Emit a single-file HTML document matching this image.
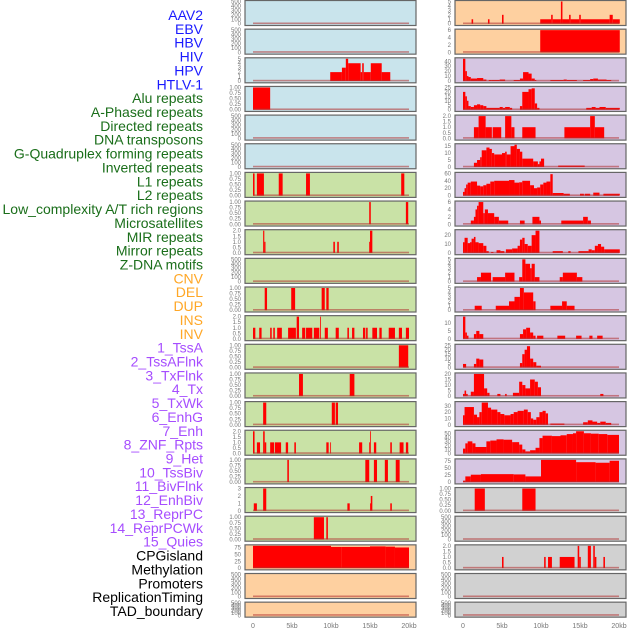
<!DOCTYPE html>
<html><head><meta charset="utf-8"><style>
html,body{margin:0;padding:0;background:#fff;}
svg{display:block;font-family:"Liberation Sans",sans-serif;}
</style></head><body>
<svg id="chart" width="630" height="630" viewBox="0 0 630 630" xmlns="http://www.w3.org/2000/svg"></svg>
<script>
// ---- data ----
const trackLabels = ["AAV2","EBV","HBV","HIV","HPV","HTLV-1","Alu repeats","A-Phased repeats","Directed repeats","DNA transposons","G-Quadruplex forming repeats","Inverted repeats","L1 repeats","L2 repeats","Low_complexity A/T rich regions","Microsatellites","MIR repeats","Mirror repeats","Z-DNA motifs","CNV","DEL","DUP","INS","INV","1_TssA","2_TssAFlnk","3_TxFlnk","4_Tx","5_TxWk","6_EnhG","7_Enh","8_ZNF_Rpts","9_Het","10_TssBiv","11_BivFlnk","12_EnhBiv","13_ReprPC","14_ReprPCWk","15_Quies","CPGisland","Methylation","Promoters","ReplicationTiming","TAD_boundary"];
const labelGroups = ["v","v","v","v","v","v","r","r","r","r","r","r","r","r","r","r","r","r","r","s","s","s","s","s","c","c","c","c","c","c","c","c","c","c","c","c","c","c","c","o","o","o","o","o"];
const xTickValues = [0,5,10,15,20];
const xTickLabels = ["0","5kb","10kb","15kb","20kb"];
// left column panels: [startKb, endKb, value]
const L0=[],L1=[],L4=[],L5=[],L9=[],L20=[],L21=[];
const L2=[[9.9,11.4,2],[11.4,11.9,3],[11.9,12.2,5],[12.2,13.8,4],[13.8,14.0,2],[14.0,14.2,4],[14.2,15.1,2],[15.1,16.5,4],[16.5,17.6,2]];
const L3=[[0,2.2,1]];
const L6=[[0,0.2,1],[0.5,1.4,1],[3.3,3.8,1],[6.8,7.3,1],[19.0,19.4,1]];
const L7=[[14.9,15.1,1],[19.6,19.9,1]];
const L8=[[1.3,1.45,2],[1.45,1.6,1],[10.3,10.5,1],[10.8,11.0,1],[14.9,15.0,1],[15.0,15.3,2]];
const L10=[[1.5,1.8,1],[4.9,5.4,1],[8.8,9.2,1],[9.4,9.7,1]];
const L11=[[0,0.3,1],[0.8,1.1,1],[2.2,2.4,1],[2.6,2.8,1],[3.1,3.7,1],[4.5,5.5,1],[5.6,5.9,2],[6.3,6.7,1],[6.8,7.6,1],[7.8,8.5,1],[8.6,8.7,2],[9.2,9.6,1],[10.6,11.0,1],[12.1,12.3,1],[12.7,13.0,1],[14.1,14.4,1],[14.5,14.7,1],[15.3,15.9,1],[16.2,16.5,1],[17.4,18.2,1],[18.7,19.1,1],[19.6,20.0,1]];
const L12=[[18.7,19.9,1]];
const L13=[[5.9,6.4,1],[12.4,13.0,1]];
const L14=[[1.3,1.7,1],[10.1,10.5,1],[10.6,10.9,1]];
const L15=[[0,0.2,2],[0.5,0.9,1],[1.3,1.5,2],[1.5,1.7,1],[2.2,2.7,1],[2.8,3.6,1],[4.2,4.5,1],[5.3,5.5,1],[9.4,9.7,1],[9.9,10.0,1],[13.6,14.0,1],[14.9,15.0,1],[15.0,15.1,2],[15.5,15.8,1],[17.6,17.8,1],[18.8,19.3,1],[19.6,19.9,1]];
const L16=[[4.4,4.6,1],[14.4,14.9,1],[15.5,15.9,1],[16.9,17.3,1],[18.3,18.8,1]];
const L17=[[0.1,0.5,1],[1.3,1.7,3],[12.1,12.4,1],[15.0,15.1,1],[15.1,15.3,2],[17.6,17.8,1]];
const L18=[[7.8,9.1,1],[9.4,9.6,1]];
const L19=[[0,10,82],[10,11.3,78],[11.3,15,78],[15,17,80],[17,18.2,79],[18.2,20,76]];
// right column panels
const R18=[],R20=[],R21=[];
const R0=[[1.1,1.3,1],[3.2,3.4,1],[5.0,5.2,2],[9.9,11.3,1],[11.3,11.5,2],[11.5,12.55,1],[12.55,12.75,5],[12.75,13.6,1],[13.6,13.8,2],[13.8,14.9,1],[14.9,15.1,2],[15.1,18.8,1],[18.8,19.2,2],[19.2,20.1,1]];
const R1=[[9.9,20.1,6]];
const R2=[[0,0.3,45],[0.3,0.5,20],[0.5,0.7,10],[0.7,1.0,8],[1.0,1.8,5],[1.8,2.6,6],[2.6,3.0,3],[3.3,3.7,2],[3.7,4.7,2],[4.7,5.4,3],[6.5,7.3,2],[7.3,7.7,5],[7.7,8.4,18],[8.4,8.8,15],[8.8,9.2,5],[9.2,9.4,2],[11.2,12.9,2],[12.9,13.3,3],[13.3,14.6,2],[15.4,16.3,2],[16.3,16.7,4],[16.7,17.3,5],[17.3,18.4,3],[18.4,19.0,2]];
const R3=[[0,0.3,20],[0.3,0.5,15],[0.5,0.7,10],[0.7,1.0,4],[1.0,1.4,3],[1.4,1.8,5],[1.8,2.2,6],[2.2,2.6,5],[2.6,3.0,4],[3.0,4.7,2],[4.7,5.1,3],[5.1,5.4,2],[5.4,6.0,3],[6.0,6.3,2],[7.3,7.6,4],[7.6,8.4,20],[8.4,8.8,23],[8.8,9.2,24],[9.2,9.5,7],[9.5,9.8,2],[15.8,16.5,2],[16.5,17.0,3],[17.0,17.5,2],[17.5,18.3,3],[18.3,20.1,2]];
const R4=[[1.4,2.0,1],[2.0,2.9,2],[2.9,3.7,1],[3.8,4.9,1],[5.4,6.2,2],[6.2,6.6,1],[7.6,9.3,1],[13.0,16.3,1],[16.3,16.9,2],[16.9,18.1,1]];
const R5=[[1.4,1.8,3],[1.8,2.2,5],[2.2,2.4,7],[2.4,3.0,12],[3.0,3.4,14],[3.4,3.7,13],[3.7,4.0,10],[4.0,5.0,9],[5.0,5.4,10],[5.4,5.6,11],[5.6,6.1,9],[6.1,6.6,15],[6.6,6.9,16],[6.9,7.3,13],[7.3,7.6,11],[7.6,9.0,6],[9.0,9.6,4],[9.6,9.8,2],[9.8,10.0,4],[10.0,10.4,6],[12.2,15.6,1]];
const R6=[[0,0.2,10],[0.2,0.4,20],[0.4,0.6,30],[0.6,1.0,35],[1.0,1.8,38],[1.8,2.2,27],[2.2,2.6,25],[2.6,3.0,28],[3.0,3.5,32],[3.5,4.0,38],[4.0,5.9,40],[5.9,6.6,42],[6.6,7.2,35],[7.2,7.6,36],[7.6,8.6,40],[8.6,9.1,28],[9.1,9.5,20],[9.5,9.9,22],[9.9,10.3,30],[10.3,10.7,35],[10.7,11.2,38],[11.2,11.5,58],[11.5,12.9,7],[12.9,13.7,5],[15.0,15.5,5],[15.6,16.3,5],[16.7,17.5,8],[18.0,20.1,5]];
const R7=[[1.0,1.4,1],[1.4,1.6,2],[1.6,1.8,4],[1.8,2.0,5],[2.0,2.6,6],[2.6,2.8,3],[2.8,3.2,4],[3.2,4.0,3],[4.0,4.6,2],[4.6,5.8,1],[7.3,7.9,1],[8.9,9.8,2],[9.8,10.0,1],[12.6,15.4,1],[15.4,16.0,2],[16.0,16.4,1]];
const R8=[[0,0.2,12],[0.2,0.6,17],[0.6,0.9,11],[0.9,1.1,12],[1.1,1.4,16],[1.4,1.6,18],[1.6,2.0,12],[2.0,2.6,11],[2.6,3.0,8],[3.0,3.3,2],[3.6,3.9,1],[4.3,4.8,3],[4.8,5.3,2],[5.5,6.3,4],[6.3,7.0,5],[7.0,7.3,8],[7.3,7.6,15],[7.6,7.9,17],[7.9,8.3,10],[8.3,8.8,8],[8.8,9.3,20],[9.3,9.8,25],[11.5,12.8,2],[13.5,13.8,2],[14.8,16.1,2],[16.1,16.5,4],[16.5,16.9,3],[16.9,17.3,8],[17.3,17.7,10],[17.7,18.1,7],[18.1,20.1,4]];
const R9=[[1.8,2.3,1],[2.3,3.6,2],[3.8,5.4,1],[5.4,6.6,2],[7.2,7.6,1],[7.6,8.0,5],[8.0,8.6,4],[8.6,8.8,3],[8.8,9.2,4],[9.2,9.8,1],[12.4,12.8,1],[12.8,14.6,2],[14.6,15.3,1]];
const R10=[[1.5,2.4,1],[4.2,5.9,1],[5.9,6.6,2],[6.6,7.3,3],[7.3,7.8,5],[7.8,9.0,4],[9.0,9.3,2],[11.2,12.7,1],[12.7,13.3,2],[13.3,14.3,1]];
const R11=[[0,0.3,14],[0.3,0.5,4],[0.5,0.7,2],[1.4,1.7,3],[1.7,2.1,5],[2.1,2.6,3],[7.3,7.7,3],[7.7,8.1,6],[8.1,8.6,7],[8.6,9.0,4],[9.0,9.3,2],[9.5,10.3,2],[12.1,13.1,2],[14.5,15.2,2],[16.2,16.6,2],[17.2,17.9,2]];
const R12=[[0,0.4,4],[1.4,1.7,4],[1.7,2.1,10],[2.1,2.6,9],[7.3,7.6,5],[7.6,7.9,15],[7.9,8.2,20],[8.2,8.6,24],[8.6,9.0,10],[9.0,9.4,6],[9.4,10.0,2]];
const R13=[[0,0.2,2],[0.2,0.4,5],[0.4,0.6,2],[1.0,1.4,4],[1.4,2.7,20],[2.7,3.1,7],[3.1,3.4,3],[4.4,4.8,2],[5.4,5.6,2],[6.4,7.2,3],[7.2,7.6,13],[7.6,8.0,10],[8.0,8.6,7],[8.6,9.2,15],[9.2,9.6,13],[9.6,10.0,8],[17.6,18.0,2]];
const R14=[[0,0.2,15],[0.2,1.4,28],[1.4,1.8,16],[1.8,2.1,12],[2.1,2.4,20],[2.4,3.2,35],[3.2,3.6,27],[3.6,4.4,24],[4.4,4.8,20],[4.8,5.3,17],[5.3,6.1,15],[6.1,6.5,17],[6.5,7.0,20],[7.0,7.8,22],[7.8,8.3,24],[8.3,8.7,20],[8.7,9.0,10],[9.0,9.4,8],[9.4,9.8,12],[9.8,10.2,20],[10.2,10.6,22],[10.6,10.9,18],[11.2,13.0,2],[15.4,16.0,4],[16.0,16.6,7],[16.6,17.2,5],[17.2,17.6,3],[17.6,18.3,5],[18.3,19.0,3]];
const R15=[[0,0.3,12],[0.3,0.6,25],[0.6,1.2,30],[1.2,1.6,25],[1.6,3.0,16],[3.0,3.5,30],[3.5,4.3,32],[4.3,5.2,35],[5.2,6.3,34],[6.3,7.2,28],[7.2,7.6,22],[7.6,8.0,10],[8.0,8.6,5],[8.6,9.3,8],[9.3,9.8,14],[9.8,10.2,38],[10.2,11.4,44],[11.4,12.5,43],[12.5,13.3,45],[13.3,14.1,48],[14.1,14.5,50],[14.5,15.5,55],[15.5,16.4,50],[16.4,17.4,49],[17.4,18.5,48],[18.5,20.0,46]];
const R16=[[0,0.3,5],[0.3,1.0,20],[1.0,2.3,26],[2.3,6.5,28],[6.5,8.0,27],[8.0,10.0,20],[10.0,14.5,78],[14.5,17.0,70],[17.0,18.8,68],[18.8,20.0,75]];
const R17=[[1.5,2.8,1],[7.6,9.3,1]];
const R19=[[5.0,5.2,1],[10.4,10.6,1],[10.9,11.4,1],[12.4,14.3,1],[14.7,14.9,2],[14.9,15.1,1],[16.0,16.4,2],[16.7,16.9,2],[16.9,17.1,1],[18.0,18.2,1]];
const leftPanels=[L0,L1,L2,L3,L4,L5,L6,L7,L8,L9,L10,L11,L12,L13,L14,L15,L16,L17,L18,L19,L20,L21];
const rightPanels=[R0,R1,R2,R3,R4,R5,R6,R7,R8,R9,R10,R11,R12,R13,R14,R15,R16,R17,R18,R19,R20,R21];
const leftYmax=[500,500,5,1,500,500,1,1,2,500,1,2,1,1,1,2,1,3,1,82,500,500];
const rightYmax=[5,6,45,25,2,16,60,6,25,5,5,14,25,20,35,55,78,1,500,2,500,500];
const leftTicks=[[0,100,200,300,400,500],[0,100,200,300,400,500],[0,1,2,3,4,5],[0,.25,.5,.75,1],[0,100,200,300,400,500],[0,100,200,300,400,500],[0,.25,.5,.75,1],[0,.25,.5,.75,1],[0,.5,1,1.5,2],[0,100,200,300,400,500],[0,.25,.5,.75,1],[0,.5,1,1.5,2],[0,.25,.5,.75,1],[0,.25,.5,.75,1],[0,.25,.5,.75,1],[0,.5,1,1.5,2],[0,.25,.5,.75,1],[0,1,2,3],[0,.25,.5,.75,1],[0,25,50,75],[0,100,200,300,400,500],[0,100,200,300,400,500]];
const rightTicks=[[0,1,2,3,4,5],[0,2,4,6],[0,10,20,30,40],[0,5,10,15,20,25],[0,.5,1,1.5,2],[0,5,10,15],[0,20,40,60],[0,2,4,6],[0,10,20],[0,1,2,3,4,5],[0,1,2,3,4,5],[0,5,10],[0,5,10,15,20,25],[0,5,10,15,20],[0,10,20,30],[0,10,20,30,40,50],[0,25,50,75],[0,.25,.5,.75,1],[0,100,200,300,400,500],[0,.5,1,1.5,2],[0,100,200,300,400,500],[0,100,200,300,400,500]];
const leftBg=["#c9e4ec","#c9e4ec","#c9e4ec","#c9e4ec","#c9e4ec","#c9e4ec","#c9e2a6","#c9e2a6","#c9e2a6","#c9e2a6","#c9e2a6","#c9e2a6","#c9e2a6","#c9e2a6","#c9e2a6","#c9e2a6","#c9e2a6","#c9e2a6","#c9e2a6","#fed0a0","#fed0a0","#fed0a0"];
const rightBg=["#fed0a0","#fed0a0","#d6c6e2","#d6c6e2","#d6c6e2","#d6c6e2","#d6c6e2","#d6c6e2","#d6c6e2","#d6c6e2","#d6c6e2","#d6c6e2","#d6c6e2","#d6c6e2","#d6c6e2","#d6c6e2","#d6c6e2","#d1d1d1","#d1d1d1","#d1d1d1","#d1d1d1","#d1d1d1"];
// ---- drawing ----
const NS="http://www.w3.org/2000/svg";
const svg=document.getElementById("chart");
const groupColor={v:"#1a1aff",r:"#1a6e1a",s:"#ffa726",c:"#a64dff",o:"#000000"};
function mk(tag,attrs,parent){const e=document.createElementNS(NS,tag);for(const k in attrs)e.setAttribute(k,attrs[k]);(parent||svg).appendChild(e);return e;}
function fmtTick(v,ticks){const dec=ticks.some(t=>t%1!==0);if(!dec)return String(v);const two=ticks.some(t=>Math.round(t*100)%50!==0);return two?v.toFixed(2):v.toFixed(1);}
// labels
trackLabels.forEach((lab,i)=>{
  const t=mk("text",{x:203,y:15+13.86*i+5,"text-anchor":"end","font-size":"14",fill:groupColor[labelGroups[i]]});
  
  
  t.textContent=lab;
});
function drawColumn(panels,ymaxes,ticks,bgs,px,side){
  const pw=171;
  const xs=kb=>px+8+kb*7.8;
  panels.forEach((segs,i)=>{
    const top=0.5+28.65*i;
    const h=(i===21)?15:25;
    const g=mk("g",{});
    
    
    const r=mk("rect",{x:px,y:top,width:pw,height:h,fill:bgs[i],stroke:"#666",
      "stroke-width":"1.2"},g);
    
    
    const y0=top+h-1.8, y1=top+1;
    const ys=v=>y0-(v/ymaxes[i])*(y0-y1);
    segs.forEach(s=>{
      const b=mk("rect",{x:xs(s[0]),y:ys(Math.min(s[2],ymaxes[i])),width:Math.max(0.8,xs(s[1])-xs(s[0])),height:y0-ys(Math.min(s[2],ymaxes[i])),fill:"#ff0000"},g);
      
      
    });
    const bl=mk("rect",{x:xs(0),y:y0-1.2,width:xs(20)-xs(0),height:1.6,fill:"#b03030","fill-opacity":"0.55"},g);
    
    
    ticks[i].forEach(tv=>{
      const t=mk("text",{x:px-4,y:ys(tv)+2,"text-anchor":"end","font-size":"6","fill":"#777"},g);
      
      
      t.textContent=fmtTick(tv,ticks[i]);
    });
  });
  xTickValues.forEach((v,k)=>{
    const t=mk("text",{x:xs(v),y:628,"text-anchor":"middle","font-size":"7",fill:"#777"});
    
    
    t.textContent=xTickLabels[k];
  });
}
drawColumn(leftPanels,leftYmax,leftTicks,leftBg,245,"left");
drawColumn(rightPanels,rightYmax,rightTicks,rightBg,455,"right");
</script>
</body></html>
